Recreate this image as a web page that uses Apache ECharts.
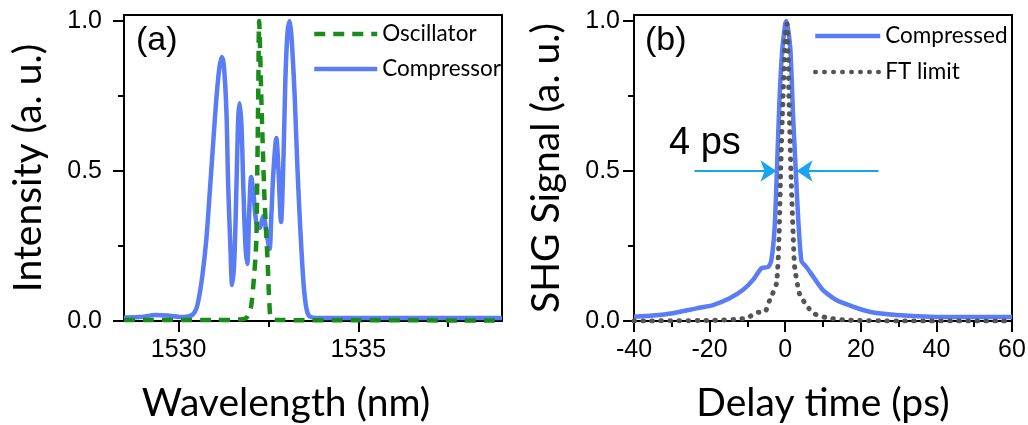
<!DOCTYPE html>
<html>
<head>
<meta charset="UTF-8">
<title>Spectrum and autocorrelation</title>
<script src="https://cdn.jsdelivr.net/npm/echarts@6/dist/echarts.min.js"></script>
<style>
  html, body { margin: 0; padding: 0; background: #fff; }
  #main { width: 1028px; height: 425px; }
</style>
</head>
<body>
<div id="main"></div>
<script>
// (a) spectra
var compWl = [1528.48, 1528.90, 1529.37, 1529.68, 1530.15, 1530.38, 1530.49, 1530.57, 1530.66, 1530.77,
  1530.85, 1530.96, 1531.05, 1531.13, 1531.20, 1531.26, 1531.33, 1531.38, 1531.44, 1531.49,
  1531.55, 1531.61, 1531.66, 1531.70, 1531.75, 1531.80, 1531.86, 1531.91, 1531.97, 1532.02,
  1532.08, 1532.16, 1532.25, 1532.36, 1532.44, 1532.53, 1532.58, 1532.64, 1532.72, 1532.78,
  1532.85, 1532.92, 1532.97, 1533.03, 1533.09, 1533.14, 1533.23, 1533.31, 1533.39, 1533.48,
  1533.56, 1533.65, 1533.92, 1539.0];
var compInt = [0.012, 0.013, 0.02, 0.018, 0.013, 0.02, 0.04, 0.08, 0.15, 0.27,
  0.40, 0.59, 0.74, 0.84, 0.88, 0.85, 0.70, 0.45, 0.25, 0.12,
  0.20, 0.45, 0.68, 0.726, 0.65, 0.45, 0.25, 0.19, 0.38, 0.48,
  0.43, 0.33, 0.31, 0.35, 0.30, 0.24, 0.35, 0.50, 0.61, 0.50,
  0.33, 0.55, 0.80, 0.96, 1.0, 0.95, 0.75, 0.50, 0.30, 0.12,
  0.04, 0.015, 0.01, 0.01];
var oscWl = [1528.48, 1531.0, 1531.7, 1531.88, 1531.97, 1532.02, 1532.08, 1532.16, 1532.19, 1532.22,
  1532.24, 1532.30, 1532.35, 1532.39, 1532.48, 1532.53, 1532.58, 1532.81, 1539.0];
var oscInt = [0.003, 0.003, 0.005, 0.01, 0.03, 0.05, 0.12, 0.26, 0.5, 0.8,
  1.0, 0.75, 0.55, 0.41, 0.19, 0.05, 0.01, 0.003, 0.002];

// (b) autocorrelation
var compDelay = [-40, -35, -29.7, -23.5, -19.1, -14.7, -11.2, -8.5, -6.3, -4.5, -3.7, -2.8, -2.2, -1.5, -0.8,
  0, 0.3, 0.8, 1.4, 2.1, 2.8, 3.4, 4.3, 5.6, 7.4, 10.0, 13.5, 17.9, 22.3, 29.4, 38.2, 50, 60];
var compSig = [0.014, 0.018, 0.026, 0.042, 0.053, 0.076, 0.103, 0.137, 0.176, 0.18, 0.20, 0.31, 0.50, 0.74, 0.90,
  0.99, 1.0, 0.97, 0.90, 0.68, 0.50, 0.35, 0.20, 0.18, 0.148, 0.103, 0.07, 0.048, 0.031, 0.02, 0.014, 0.013, 0.013];
var ftDelay = [-40, -20, -10.3, -7.6, -5.4, -4.1, -2.3, -1.6, -1.2, -0.6, 0.1, 0.5, 1.0, 1.5, 2.1, 2.5,
  3.8, 5.6, 7.4, 10.9, 16.2, 30, 60];
var ftSig = [0, 0.002, 0.009, 0.028, 0.03, 0.07, 0.126, 0.29, 0.50, 0.74, 0.97, 0.99, 0.74, 0.50, 0.29, 0.18,
  0.09, 0.053, 0.026, 0.011, 0.003, 0, 0];

// ticks
var wlMajor = [1530, 1535];
var wlMinor = [1532.5, 1537.5];
var yMajor = [0, 0.5, 1.0];
var yMinor = [0.25, 0.75];
// FWHM arrows (delay, level)
var fwhmLeft = [-24, -2.3];
var fwhmRight = [24.7, 3.0];
var fwhmLevel = 0.5;

function zip(xs, ys) {
  return xs.map(function (x, i) { return [x, ys[i]]; });
}

var blue = '#5a7cf5';
var tickFont = { fontFamily: 'Liberation Sans', fontSize: 25, color: '#000' };
var nameFont = { fontFamily: 'Lato', fontSize: 39, color: '#000' };
var axisLine = { show: true, onZero: false, lineStyle: { color: '#000', width: 2 } };

function majorX(grid, min, max, name, ticks) {
  return {
    gridIndex: grid, type: 'value', min: min, max: max, position: 'bottom',
    name: name, nameLocation: 'middle', nameGap: 63,
    nameTextStyle: Object.assign({ padding: [0, 54, 0, 0] }, nameFont),
    axisLine: axisLine,
    axisTick: { customValues: ticks, length: 11, lineStyle: { color: '#000', width: 2 } },
    axisLabel: Object.assign({ customValues: ticks, margin: 17,
      formatter: function (v) { return String(v); } }, tickFont),
    splitLine: { show: false }
  };
}
function minorAxis(grid, min, max, ticks, pos) {
  return {
    gridIndex: grid, type: 'value', min: min, max: max, position: pos, offset: 0,
    axisLine: { show: false, onZero: false },
    axisTick: { customValues: ticks, length: 6, lineStyle: { color: '#000', width: 2 } },
    axisLabel: { show: false },
    splitLine: { show: false }
  };
}
function majorY(grid, name, gap, margin) {
  return {
    gridIndex: grid, type: 'value', min: 0, max: 1.02, position: 'left',
    name: name, nameLocation: 'middle', nameGap: gap, nameTextStyle: nameFont,
    axisLine: axisLine,
    axisTick: { customValues: yMajor, length: 11, lineStyle: { color: '#000', width: 2 } },
    axisLabel: Object.assign({ customValues: yMajor, margin: margin,
      formatter: function (v) { return v.toFixed(1); } }, tickFont),
    splitLine: { show: false }
  };
}

var legendText = { fontFamily: 'Lato', fontSize: 22.5, color: '#000', lineHeight: 24 };

var chart = echarts.init(document.getElementById('main'));
chart.setOption({
  animation: false,
  grid: [
    { left: 124, top: 15, width: 378, height: 306, show: true, borderColor: '#000', borderWidth: 2,
      containLabel: false, outerBoundsMode: 'none' },
    { left: 634, top: 15, width: 378, height: 306, show: true, borderColor: '#000', borderWidth: 2,
      containLabel: false, outerBoundsMode: 'none' }
  ],
  legend: [
    {
      data: ['Oscillator', 'Compressor'], orient: 'vertical', left: 307, top: 17,
      itemWidth: 63, itemHeight: 14, itemGap: 11, selectedMode: false,
      itemStyle: { opacity: 0 }, lineStyle: { width: 4.5 },
      textStyle: legendText
    },
    {
      data: ['Compressed', 'FT limit'], orient: 'vertical', left: 808, top: 19,
      itemWidth: 65, itemHeight: 14, itemGap: 12, selectedMode: false,
      itemStyle: { opacity: 0 }, lineStyle: { width: 4.5 },
      textStyle: legendText
    }
  ],
  xAxis: [
    majorX(0, 1528.48, 1539.0, 'Wavelength (nm)', wlMajor),
    minorAxis(0, 1528.48, 1539.0, wlMinor, 'bottom'),
    {
      gridIndex: 1, type: 'value', min: -40, max: 60, interval: 20, position: 'bottom',
      name: 'Delay time (ps)', nameLocation: 'middle', nameGap: 63, nameTextStyle: nameFont,
      axisLine: axisLine,
      axisTick: { length: 11, lineStyle: { color: '#000', width: 2 } },
      minorTick: { show: true, splitNumber: 2, length: 6, lineStyle: { color: '#000', width: 2 } },
      axisLabel: Object.assign({ margin: 17 }, tickFont),
      splitLine: { show: false }
    }
  ],
  yAxis: [
    majorY(0, 'Intensity (a. u.)', 76, 22),
    minorAxis(0, 0, 1.02, yMinor, 'left'),
    majorY(1, 'SHG Signal (a. u.)', 68, 14),
    minorAxis(1, 0, 1.02, yMinor, 'left')
  ],
  graphic: [
    { type: 'text', left: 136, top: 24, style: { text: '(a)', font: '34px "Liberation Sans"', fill: '#000' } },
    { type: 'text', left: 645, top: 24, style: { text: '(b)', font: '34px "Liberation Sans"', fill: '#000' } },
    { type: 'text', left: 669, top: 125, style: { text: '4 ps', font: '38px "Liberation Sans"', fill: '#000' } }
  ],
  series: [
    {
      name: 'Compressor', type: 'line', xAxisIndex: 0, yAxisIndex: 0,
      data: zip(compWl, compInt), symbol: 'none', smooth: 0.3,
      lineStyle: { color: blue, width: 4.5 }, itemStyle: { color: blue }, z: 2
    },
    {
      name: 'Oscillator', type: 'line', xAxisIndex: 0, yAxisIndex: 0,
      data: zip(oscWl, oscInt), symbol: 'none', smooth: 0.3,
      lineStyle: { color: '#1a8c1a', width: 4.5, type: [11, 8] }, itemStyle: { color: '#1a8c1a' }, z: 3
    },
    {
      name: 'Compressed', type: 'line', xAxisIndex: 2, yAxisIndex: 2,
      data: zip(compDelay, compSig), symbol: 'none', smooth: 0.2,
      lineStyle: { color: blue, width: 4.5 }, itemStyle: { color: blue }, z: 2,
      markLine: {
        silent: true, symbol: ['none', 'arrow'], symbolSize: 16,
        label: { show: false },
        lineStyle: { color: '#1aa3f0', width: 2, type: 'solid' },
        data: [
          [{ coord: [fwhmLeft[0], fwhmLevel] }, { coord: [fwhmLeft[1], fwhmLevel] }],
          [{ coord: [fwhmRight[0], fwhmLevel] }, { coord: [fwhmRight[1], fwhmLevel] }]
        ]
      }
    },
    {
      name: 'FT limit', type: 'line', xAxisIndex: 2, yAxisIndex: 2,
      data: zip(ftDelay, ftSig), symbol: 'none', smooth: 0.2,
      lineStyle: { color: '#555555', width: 5, type: [0.5, 8.5], cap: 'round' },
      itemStyle: { color: '#555555' }, z: 3
    }
  ]
});
</script>
</body>
</html>
